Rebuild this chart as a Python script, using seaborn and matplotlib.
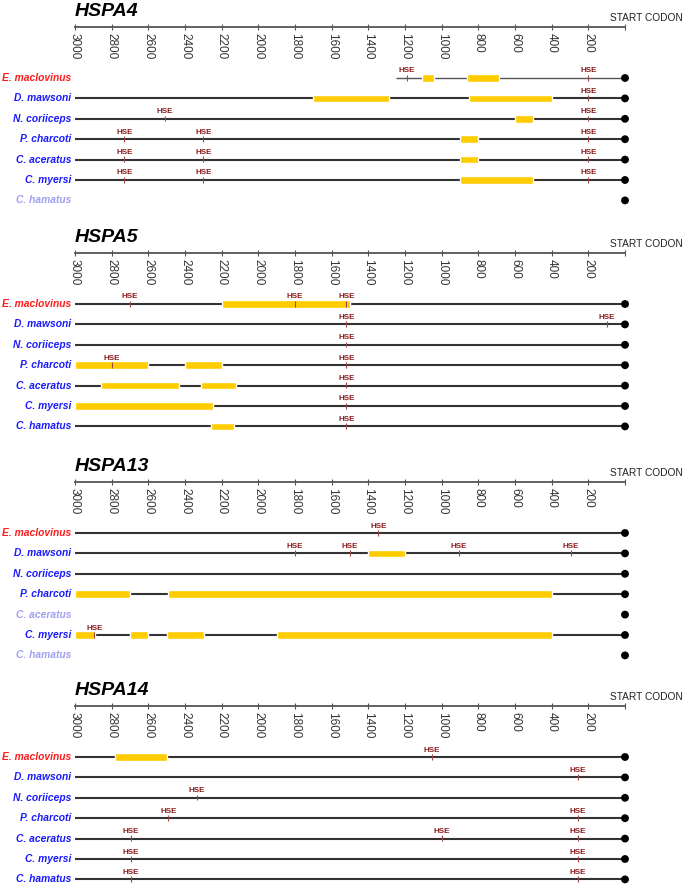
import numpy as np
import pandas as pd
import matplotlib
matplotlib.use("Agg")
import matplotlib.pyplot as plt
import seaborn as sns

sns.set_theme(style="white")
plt.rcParams['font.family'] = ['Liberation Sans', 'DejaVu Sans']

species = ["E. maclovinus", "D. mawsoni", "N. coriiceps", "P. charcoti",
           "C. aceratus", "C. myersi", "C. hamatus"]
genes = ["HSPA4", "HSPA5", "HSPA13", "HSPA14"]

# promoter start (bp upstream of start codon), None = sequence not available
hspa4_start = [1250, 3000, 3000, 3000, 3000, 3000, None]
hspa4_bars = [[(1110, 1040), (860, 690)], [(1700, 1290), (850, 400)], [(600, 500)],
              [(900, 800)], [(900, 800)], [(900, 500)], []]
hspa4_hse = [[1190, 200], [200], [2510, 200], [2730, 2300, 200],
             [2730, 2300, 200], [2730, 2300, 200], []]

hspa5_start = [3000, 3000, 3000, 3000, 3000, 3000, 3000]
hspa5_bars = [[(2200, 1500)], [], [], [(3000, 2600), (2400, 2200)],
              [(2860, 2430), (2315, 2120)], [(3000, 2245)], [(2260, 2135)]]
hspa5_hse = [[2700, 1800, 1520], [1520, 100], [1520], [2800, 1520],
             [1520], [1520], [1520]]

hspa13_start = [3000, 3000, 3000, 3000, None, 3000, None]
hspa13_bars = [[], [(1400, 1200)], [], [(3000, 2700), (2490, 400)], [],
               [(3000, 2890), (2700, 2600), (2500, 2295), (1900, 400)], []]
hspa13_hse = [[1345], [1800, 1500, 905, 295], [], [], [], [2895], []]

hspa14_start = [3000, 3000, 3000, 3000, 3000, 3000, 3000]
hspa14_bars = [[(2780, 2500)], [], [], [], [], [], []]
hspa14_hse = [[1055], [258], [2335], [2490, 258], [2695, 1000, 258],
              [2695, 258], [2695, 258]]

starts = [hspa4_start, hspa5_start, hspa13_start, hspa14_start]
bars = [hspa4_bars, hspa5_bars, hspa13_bars, hspa14_bars]
hses = [hspa4_hse, hspa5_hse, hspa13_hse, hspa14_hse]

ticks = list(range(0, 3001, 200))
tick_labels = [str(t) if t > 0 else "" for t in ticks]

# layout in pixels of the output image
W, H = 685, 885
axis_y = [27, 253, 482, 706]
row_gap = 20.4
first_row = 51

line_col = "#333333"
bar_col = "#FFCC00"
hse_col = "#8B1A1A"
red, blue, faded = "#FF1A1A", "#1A1AFF", "#A0A0F0"

fig = plt.figure(figsize=(W / 100, H / 100), dpi=100)

x_left = 3000 + 75 * 3000 / 550
x_right = 3000 - 610 * 3000 / 550

for g, gene in enumerate(genes):
    ax = fig.add_axes([0, 0, 1, 1])
    ax.set_facecolor("none")
    ax.set_xlim(x_left, x_right)
    ax.set_ylim(H, 0)
    for s in ["top", "left", "right"]:
        ax.spines[s].set_visible(False)
    sp = ax.spines["bottom"]
    sp.set_position(("data", axis_y[g]))
    sp.set_bounds(0, 3000)
    sp.set_color("#555555")
    sp.set_linewidth(1.3)
    ax.set_yticks([])
    ax.set_xticks(ticks)
    ax.set_xticklabels(tick_labels)
    ax.tick_params(axis="x", direction="inout", length=5, width=0.8,
                   color="#555555", labelsize=8.5, labelcolor="#333333",
                   pad=2, bottom=True)
    plt.setp(ax.get_xticklabels(), rotation=270, va="top", ha="center")

    ax.text(3000, axis_y[g] - 11, gene, fontsize=14, fontweight="bold",
            fontstyle="italic", ha="left", va="baseline", color="black")
    ax.text(80, axis_y[g] - 9, "START CODON", fontsize=7.3, ha="left",
            va="center", color="#222222")

    rows = axis_y[g] + first_row + row_gap * np.arange(len(species))
    for i, sp_name in enumerate(species):
        y = rows[i]
        st = starts[g][i]
        if st is None:
            col = faded
        elif i == 0:
            col = red
        else:
            col = blue
        ax.annotate(sp_name, (3000, y), xytext=(-2.5, 0), textcoords="offset points",
                    ha="right", va="center", fontsize=7.4, fontweight="bold",
                    fontstyle="italic", color=col)
        if st is None:
            continue
        if st < 3000:
            ax.hlines(y, 0, st, color="#555555", lw=1.0, zorder=2)
        else:
            ax.hlines(y, 0, st, color=line_col, lw=1.5, zorder=2)
        for a, b in bars[g][i]:
            ax.barh(y, a - b, left=b, height=7.5, color=bar_col, zorder=3)
        for h in hses[g][i]:
            ax.vlines(h, y - 3.3, y + 2.5, color="#A04848", lw=0.8, zorder=4)
            ax.text(h, y - 7, "HSE", fontsize=5.8, fontweight="bold",
                    color=hse_col, ha="center", va="center", zorder=5)

    dots = pd.DataFrame({"pos": np.zeros(len(species)), "row": rows})
    sns.scatterplot(data=dots, x="pos", y="row", ax=ax, color="black",
                    s=32, edgecolor="none", zorder=6, legend=False)
    ax.set_xlabel("")
    ax.set_ylabel("")

fig.savefig("out.png", dpi=100)
